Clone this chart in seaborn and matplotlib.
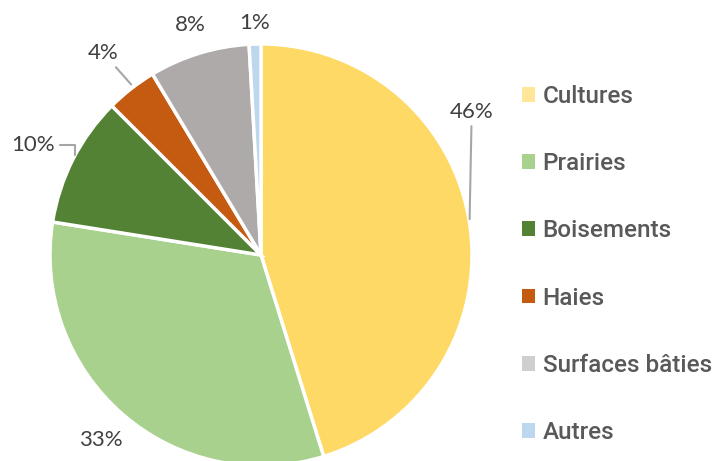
import numpy as np
import matplotlib
matplotlib.use("Agg")
import matplotlib.pyplot as plt
from matplotlib.patches import Patch
import seaborn as sns

# Data
categories = ["Cultures", "Prairies", "Boisements", "Haies", "Surfaces bâties", "Autres"]
shares = [45.2, 32.3, 10.0, 3.9, 7.7, 0.9]
pct_labels = ["46%", "33%", "10%", "4%", "8%", "1%"]

# Colours
slice_colors = ["#FFD966", "#A9D18E", "#548235", "#C55A11", "#AEAAAA", "#BDD7EE"]
legend_colors = ["#FFE699", "#A9D18E", "#548235", "#C55A11", "#D0CECE", "#BDD7EE"]

sns.set_theme(style="white")
plt.rcParams["font.family"] = ["Roboto", "DejaVu Sans"]

fig = plt.figure(figsize=(7.17, 4.61), dpi=100)
W, H = 717, 461
cx, cy, r = 261, 255, 211
ax = fig.add_axes([(cx - r) / W, (H - cy - r) / H, 2 * r / W, 2 * r / H])

wedges, _ = ax.pie(
    shares,
    colors=slice_colors,
    startangle=90,
    counterclock=False,
    radius=1,
    wedgeprops=dict(edgecolor="white", linewidth=2.5),
)
ax.set_xlim(-1, 1)
ax.set_ylim(-1, 1)
ax.set_aspect("equal")
ax.axis("off")

# Percent labels with leader lines
label_radius = [1.2, 1.16, 1.2, 1.215, 1.14, 1.10]
lead = dict(arrowstyle="-", color="#A6A6A6", lw=1.5, shrinkA=1, shrinkB=0)
for i, w in enumerate(wedges):
    mid = np.deg2rad((w.theta1 + w.theta2) / 2)
    ex, ey = np.cos(mid), np.sin(mid)
    lx, ly = label_radius[i] * ex, label_radius[i] * ey
    kw = dict(ha="center", va="center", fontsize=16, color="#404040",
              family=["Lato", "DejaVu Sans"])
    if i == 0:
        ax.annotate(pct_labels[i], xy=(ex, ey + 0.02), xytext=(ex + 0.01, 0.68),
                    arrowprops=lead, annotation_clip=False, **kw)
    elif i == 2:
        ax.annotate(pct_labels[i], xy=(ex + 0.01, ey + 0.02), xytext=(-1.08, 0.52),
                    arrowprops=dict(lead, connectionstyle="angle,angleA=0,angleB=90,rad=0"),
                    annotation_clip=False, **kw)
    elif i == 3:
        ax.annotate(pct_labels[i], xy=(ex, ey + 0.02), xytext=(lx, ly),
                    arrowprops=lead, annotation_clip=False, **kw)
    else:
        ax.text(lx, ly, pct_labels[i], clip_on=False, **kw)

handles = [Patch(facecolor=c, edgecolor="none") for c in legend_colors]
fig.legend(
    handles, categories,
    loc="center left",
    bbox_to_anchor=(522 / W, 1 - 264.5 / H),
    frameon=False,
    prop=dict(family=["Roboto", "DejaVu Sans"], weight="medium", size=17.5),
    labelcolor="#595959",
    handlelength=0.55,
    handleheight=0.55,
    handletextpad=0.3,
    labelspacing=1.82,
    borderpad=0,
    borderaxespad=0,
)

fig.savefig("out.png", dpi=100)
